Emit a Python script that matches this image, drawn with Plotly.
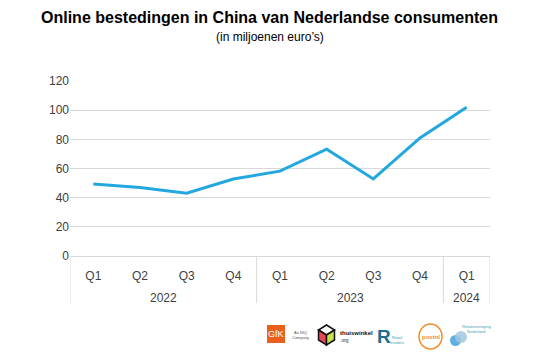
import plotly.graph_objects as go

years = ["2022", "2022", "2022", "2022", "2023", "2023", "2023", "2023", "2024"]
quarters = ["Q1", "Q2", "Q3", "Q4", "Q1", "Q2", "Q3", "Q4", "Q1"]
values = [49.4, 47.0, 43.0, 52.8, 58.2, 73.2, 52.8, 81.0, 102.0]
y_ticks = [0, 20, 40, 60, 80, 100, 120]

categories = [f"{q} {y}" for q, y in zip(quarters, years)]

# page body adds an 8px offset; figure sized so the 539x355 window matches
OFF = 8
W, H = 539 - OFF, 355 - OFF
L, T = 62, 73
PW, PH = 420, 175
R, B = W - L - PW, H - T - PH


def px(x):
    return (x - OFF - L) / PW


def py(y):
    return (T + PH - (y - OFF)) / PH


fig = go.Figure()
fig.add_trace(go.Scatter(
    x=categories, y=values, mode="lines",
    line=dict(color="#22a7de", width=3), hoverinfo="skip",
))

fig.update_layout(
    width=W, height=H,
    margin=dict(l=L, r=R, t=T, b=B),
    paper_bgcolor="white", plot_bgcolor="white",
    showlegend=False,
    font=dict(family="Liberation Sans, Arial, sans-serif", size=12, color="#404040"),
)
fig.update_yaxes(
    range=[0, 120], tickvals=y_ticks, showgrid=True, gridcolor="#d9d9d9", gridwidth=1,
    zeroline=False, showline=False, ticks="", ticklen=0, automargin=False,
    tickfont=dict(size=12, color="#404040"),
)
fig.update_xaxes(
    type="category", categoryorder="array", categoryarray=categories,
    range=[-0.5, len(categories) - 0.5], showgrid=False, showline=True,
    linecolor="#d9d9d9", linewidth=1, automargin=False,
    tickvals=categories, ticktext=quarters, ticklabelstandoff=9,
    ticks="", tickfont=dict(size=12, color="#404040"),
)

# group dividers (edges and between years)
bounds = [-0.5]
for i in range(1, len(years)):
    if years[i] != years[i - 1]:
        bounds.append(i - 0.5)
bounds.append(len(years) - 0.5)
for b in bounds:
    fig.add_shape(type="line", xref="x", yref="paper", x0=b, x1=b,
                  y0=0, y1=py(303), line=dict(color="#d9d9d9", width=1))

# year labels centred under each group
for i0, i1 in zip(bounds[:-1], bounds[1:]):
    fig.add_annotation(text=years[int(i0 + 0.5)], xref="x", yref="paper",
                       x=(i0 + i1) / 2, y=py(297.5), xanchor="center", yanchor="middle",
                       showarrow=False, font=dict(size=12, color="#404040"))

fig.add_annotation(
    text="<b>Online bestedingen in China van Nederlandse consumenten</b>",
    xref="paper", yref="paper", x=px(269.5), y=py(17), xanchor="center", yanchor="middle",
    showarrow=False, font=dict(size=16, color="#000000"),
)
fig.add_annotation(
    text="(in miljoenen euro’s)",
    xref="paper", yref="paper", x=px(269.5), y=py(37), xanchor="center", yanchor="middle",
    showarrow=False, font=dict(size=12, color="#000000"),
)


# ---- approximate partner logos (bottom right) ----
def rect(x0, y0, x1, y1, **kw):
    fig.add_shape(type="rect", xref="paper", yref="paper",
                  x0=px(x0), x1=px(x1), y0=py(y1), y1=py(y0), **kw)


def text(x, y, s, size, color, anchor="left", bold=False):
    fig.add_annotation(text=f"<b>{s}</b>" if bold else s, xref="paper", yref="paper",
                       x=px(x), y=py(y), xanchor=anchor, yanchor="middle",
                       showarrow=False, font=dict(size=size, color=color),
                       borderpad=0)


def path(pts):
    return "M " + " L ".join(f"{px(a)} {py(b)}" for a, b in pts) + " Z"


# GfK
rect(267, 325, 285, 343, fillcolor="#e8601c", line=dict(width=0))
text(276, 334, "GfK", 9, "#ffffff", anchor="center")
text(291, 334.5, "An NIQ<br>Company", 4, "#555555")

# thuiswinkel cube
cx, cy = 326.5, 335
fig.add_shape(type="path", xref="paper", yref="paper",
              path=path([(cx, cy - 10), (cx + 8, cy - 5), (cx, cy), (cx - 8, cy - 5)]),
              fillcolor="#ffffff", line=dict(color="#111111", width=1.5))
fig.add_shape(type="path", xref="paper", yref="paper",
              path=path([(cx - 8, cy - 5), (cx, cy), (cx, cy + 10), (cx - 8, cy + 5)]),
              fillcolor="#e8475a", line=dict(color="#111111", width=1.5))
fig.add_shape(type="path", xref="paper", yref="paper",
              path=path([(cx, cy), (cx + 8, cy - 5), (cx + 8, cy + 5), (cx, cy + 10)]),
              fillcolor="#c8e04a", line=dict(color="#111111", width=1.5))
text(339, 333, "thuiswinkel", 6, "#111111", bold=True)
text(339, 340, ".org", 5, "#333333")

# Retail Insiders
text(375.5, 336.5, "R", 19, "#1b6f8f", bold=True)
text(389, 340, "Retail<br>Insiders", 4, "#3aa0b8")

# PostNL
fig.add_shape(type="circle", xref="paper", yref="paper",
              x0=px(419), x1=px(442), y0=py(349), y1=py(324),
              line=dict(color="#f28c28", width=1.5), fillcolor="rgba(0,0,0,0)")
text(430.5, 337, "<b>postnl</b>", 6, "#f28c28", anchor="center")

# Retailvereniging
fig.add_shape(type="circle", xref="paper", yref="paper",
              x0=px(450), x1=px(461), y0=py(346), y1=py(335),
              line=dict(width=0), fillcolor="#5fb0e0")
fig.add_shape(type="circle", xref="paper", yref="paper",
              x0=px(455), x1=px(467), y0=py(343), y1=py(331),
              line=dict(width=0), fillcolor="rgba(160,200,225,0.85)")
text(461, 329, "Retailvereniging<br>Nederland", 4, "#3a9fb5")

fig.write_html("out.html")
